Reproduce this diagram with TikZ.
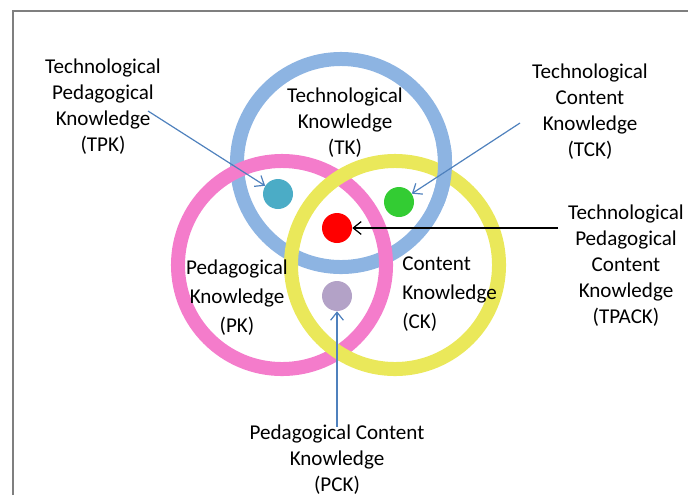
\documentclass[tikz,border=0pt]{standalone}
\usepackage{fontspec}
\setmainfont{Carlito}
\usepackage{xcolor}
\usepackage{tikz}
\usetikzlibrary{arrows.meta}
\definecolor{tkcolor}{HTML}{8DB4E2}
\definecolor{pkcolor}{HTML}{F47CCB}
\definecolor{ckcolor}{HTML}{EAE85A}
\definecolor{tpkcolor}{HTML}{4BACC6}
\definecolor{tckcolor}{HTML}{33CC33}
\definecolor{tpackcolor}{HTML}{FF0000}
\definecolor{pckcolor}{HTML}{B3A2C7}
\definecolor{arrowcolor}{HTML}{4F81BD}
\definecolor{framecolor}{HTML}{7F7F7F}

\begin{document}
\begin{tikzpicture}[x=0.025cm, y=-0.025cm,
  ring/.style={draw, circle, line width=0.35cm, minimum size=5.2cm, inner sep=0pt},
  dot/.style={circle, minimum size=0.75cm, inner sep=0pt},
  lbl/.style={align=center, inner sep=0pt, font=\fontsize{15}{18.5}\selectfont},
  arr/.style={-{Straight Barb[length=0.2cm, width=0.32cm]}, line width=0.03cm, draw=arrowcolor}]%
\useasboundingbox (0,0) rectangle (688,495);%
\draw[line width=0.05cm, draw=framecolor] (13,495) -- (13,11) -- (688,11);%
% the three rings
\node[ring, draw=tkcolor] (tk) at (341,163) {};%
\node[ring, draw=pkcolor] (pk) at (282,265) {};%
\node[ring, draw=ckcolor] (ck) at (395,265) {};%
\begin{scope}%
\clip (425,145) rectangle (465,205);%
\draw[line width=0.35cm, draw=tkcolor] (tk.center) circle [radius=2.6cm];%
\end{scope}%
% the overlap dots
\node[dot, fill=tpkcolor] (tpkdot) at (278,194) {};%
\node[dot, fill=tckcolor] (tckdot) at (399,202) {};%
\node[dot, fill=tpackcolor] (tpackdot) at (337,228) {};%
\node[dot, fill=pckcolor] (pckdot) at (337,296) {};%
% labels
\node[lbl] (tklabel) at (345,123) {Technological\\Knowledge\\(TK)};%
\node[lbl, font=\fontsize{15}{20.6}\selectfont] (pklabel) at (237,297.5) {Pedagogical\\Knowledge\\(PK)};%
\node[lbl, align=left, anchor=west, font=\fontsize{15}{20.6}\selectfont] (cklabel) at (402,294) {Content\\Knowledge\\(CK)};%
\node[lbl] (tpklabel) at (103,107) {Technological\\Pedagogical\\Knowledge\\(TPK)};%
\node[lbl] (tcklabel) at (590,111.5) {Technological\\Content\\Knowledge\\(TCK)};%
\node[lbl] (tpacklabel) at (626,265.5) {Technological\\Pedagogical\\Content\\Knowledge\\(TPACK)};%
\node[lbl] (pcklabel) at (337,460) {Pedagogical Content\\Knowledge\\(PCK)};%
% arrows
\coordinate (tpkfrom) at (148,111);%
\coordinate (tckfrom) at (520,123);%
\coordinate (tpackfrom) at (558,228);%
\coordinate (pckfrom) at (337,427);%
\draw[arr] (tpkfrom) -- (tpkdot);%
\draw[arr] (tckfrom) -- (tckdot);%
\draw[arr, draw=black] (tpackfrom) -- (tpackdot);%
\draw[arr] (pckfrom) -- (pckdot);%
\end{tikzpicture}
\end{document}
